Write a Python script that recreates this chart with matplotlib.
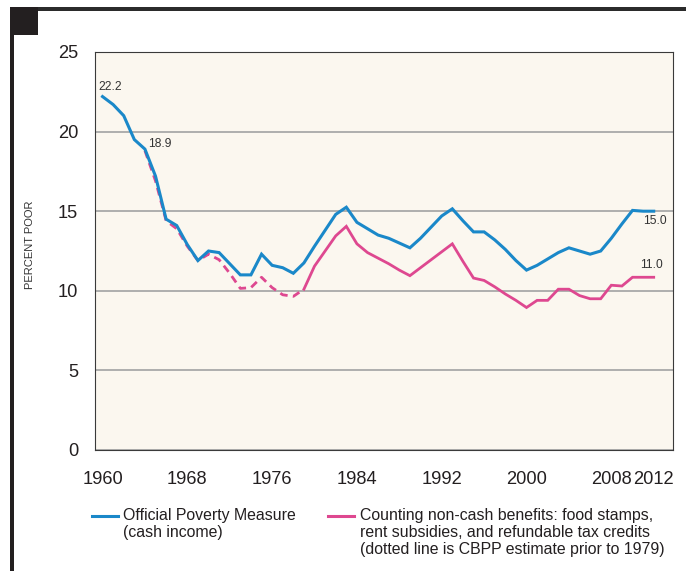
import matplotlib.pyplot as plt
from matplotlib import font_manager
from matplotlib.lines import Line2D
from matplotlib.patches import Rectangle

# official poverty rate (cash income), percent
years = list(range(1960, 2013))
official = [22.2, 21.7, 21.0, 19.5, 18.9, 17.2, 14.5, 14.1, 12.9, 11.9,
            12.5, 12.4, 11.7, 11.0, 11.0, 12.3, 11.6, 11.45, 11.1, 11.75,
            12.8, 13.8, 14.8, 15.25, 14.3, 13.9, 13.5, 13.3, 13.0, 12.7,
            13.3, 14.0, 14.7, 15.15, 14.4, 13.7, 13.7, 13.2, 12.6, 11.9,
            11.3, 11.6, 12.0, 12.4, 12.7, 12.5, 12.3, 12.5, 13.3, 14.2,
            15.05, 15.0, 15.0]

# counting non-cash benefits (CBPP estimate before 1979)
noncash_years = list(range(1964, 2013))
noncash = [18.8, 16.9, 14.4, 13.9, 12.8, 11.9,
           12.3, 11.95, 11.1, 10.15, 10.2, 10.85, 10.2, 9.75, 9.65, 10.1,
           11.55, 12.5, 13.45, 14.05, 12.95, 12.4, 12.05, 11.7, 11.3, 10.95,
           11.45, 11.95, 12.45, 12.95, 11.85, 10.8, 10.65, 10.25, 9.8, 9.4,
           8.95, 9.4, 9.4, 10.1, 10.1, 9.7, 9.5, 9.5, 10.35, 10.3,
           10.85, 10.85, 10.85]
estimate_until = 1979

x_ticks = [1960, 1968, 1976, 1984, 1992, 2000, 2008, 2012]
y_ticks = [0, 5, 10, 15, 20, 25]

# condensed font if present, otherwise shrink the regular one
names = {f.name for f in font_manager.fontManager.ttflist}
if 'Liberation Sans Narrow' in names:
    narrow, k = 'Liberation Sans Narrow', 1.0
else:
    narrow, k = 'Liberation Sans', 0.82
plt.rcParams['font.family'] = [narrow, 'DejaVu Sans']

BLUE = '#1a88c9'
PINK = '#de4890'
TEXT = '#231f20'
W, H = 686, 571


def fx(px):
    return px / W


def fy(py):
    return 1 - py / H


fig = plt.figure(figsize=(6.86, 5.71), dpi=100)
ax = fig.add_axes([fx(95), fy(450), fx(673) - fx(95), fy(52) - fy(450)])
ax.set_facecolor('#fbf7ef')

# non-cash line: dashed estimate, then solid
i = noncash_years.index(estimate_until)
ax.plot(noncash_years[:i + 1], noncash[:i + 1], color=PINK, lw=2.0,
        ls=(0, (2.8, 1.9)), zorder=3)
ax.plot(noncash_years[i:], noncash[i:], color=PINK, lw=2.0,
        solid_joinstyle='miter', zorder=3)
ax.plot(years, official, color=BLUE, lw=2.2, solid_joinstyle='miter', zorder=4)

ax.set_xlim(1959.29, 2013.82)
ax.set_ylim(0, 25)
ax.set_xticks(x_ticks)
ax.set_yticks(y_ticks)
ax.tick_params(axis='x', length=0, pad=15, labelsize=16 * k, labelcolor=TEXT)
ax.tick_params(axis='y', length=0, pad=12, labelsize=16 * k, labelcolor=TEXT)
ax.grid(axis='y', color='#a9a9a9', lw=1.3, zorder=1)
for s in ax.spines.values():
    s.set_color('#3a3a3a')
    s.set_linewidth(0.8)

# value labels
lab = dict(fontsize=10.5 * k, color='#333333', textcoords='offset pixels',
           va='center')
ax.annotate(f'{official[0]:.1f}', xy=(years[0], official[0]), xytext=(-4, 10),
            ha='left', **lab)
ax.annotate(f'{official[4]:.1f}', xy=(years[4], official[4]), xytext=(3, 5),
            ha='left', **lab)
ax.annotate(f'{official[-1]:.1f}', xy=(years[-1], official[-1]), xytext=(13, -10),
            ha='right', **lab)
ax.annotate('11.0', xy=(noncash_years[-1], noncash[-1]), xytext=(9, 12),
            ha='right', **lab)

fig.text(fx(30), fy(245), 'PERCENT POOR', rotation=90, ha='center',
         va='center', fontsize=8, family='Liberation Sans', color='#333333')

# legend
fig.add_artist(Line2D([fx(92), fx(118)], [fy(516)] * 2, color=BLUE, lw=2.2))
fig.text(fx(123), fy(508), 'Official Poverty Measure\n(cash income)',
         va='top', ha='left', fontsize=14 * k, color=TEXT, linespacing=1.15)
fig.add_artist(Line2D([fx(328), fx(354)], [fy(516)] * 2, color=PINK, lw=2.2))
fig.text(fx(360), fy(508),
         'Counting non-cash benefits: food stamps,\n'
         'rent subsidies, and refundable tax credits\n'
         '(dotted line is CBPP estimate prior to 1979)',
         va='top', ha='left', fontsize=14 * k, color=TEXT, linespacing=1.15)

# page frame marks
fig.add_artist(Rectangle((fx(10), fy(11)), fx(686) - fx(10), fy(7) - fy(11),
                         transform=fig.transFigure, color='#2b2b2b', lw=0))
fig.add_artist(Rectangle((fx(10), fy(35)), fx(38) - fx(10), fy(7) - fy(35),
                         transform=fig.transFigure, color='#231f20', lw=0))
fig.add_artist(Rectangle((fx(10), fy(571)), fx(14) - fx(10), fy(35) - fy(571),
                         transform=fig.transFigure, color='#231f20', lw=0))

plt.savefig('out.png', dpi=100)
